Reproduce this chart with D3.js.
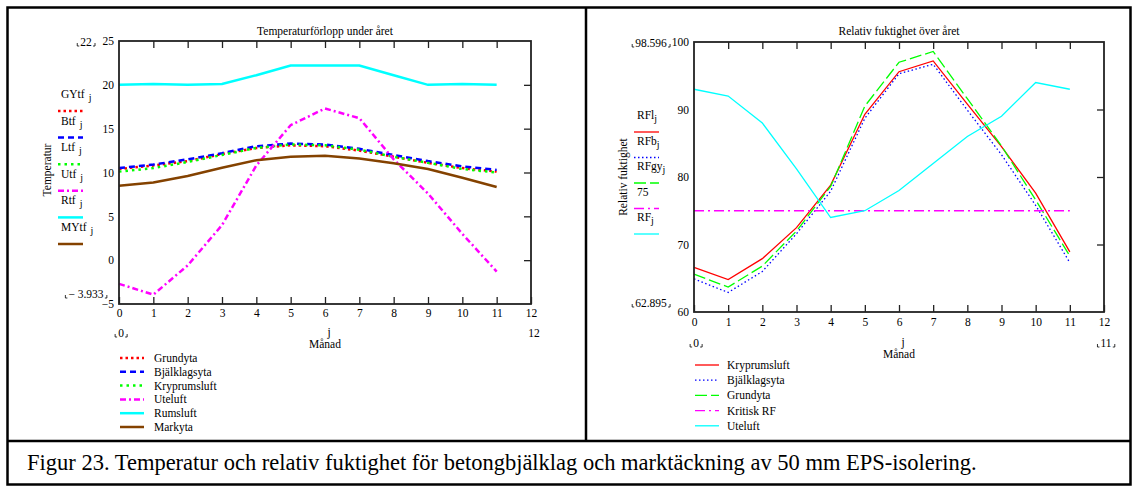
<!DOCTYPE html>
<html>
<head>
<meta charset="utf-8">
<script src="https://cdn.jsdelivr.net/npm/d3@7/dist/d3.min.js"></script>
<style>
  body { margin: 0; background: #fff; }
  svg { font-family: "Liberation Serif", "Times New Roman", serif; }
</style>
</head>
<body>
<svg id="fig" width="1133" height="487"></svg>
<script>
// manader 0..11
const months = [0,1,2,3,4,5,6,7,8,9,10,11]

// temperatur
const GYtf = [10.4,10.8,11.3,12.1,12.8,13.1,13.0,12.5,11.8,11.1,10.5,10.1]
const Btf  = [10.5,10.9,11.5,12.2,13.0,13.3,13.2,12.7,12.0,11.3,10.7,10.3]
const Ltf  = [10.1,10.5,11.2,12.0,12.8,13.2,13.1,12.6,11.8,11.1,10.4,10.0]
const Utf  = [-2.7,-3.933,-0.6,4.0,10.8,15.4,17.3,16.2,11.5,7.6,3.0,-1.3]
const Rtf  = [20.0,20.1,20.0,20.1,21.1,22.2,22.2,22.2,21.1,20.0,20.1,20.0]
const MYtf = [8.5,8.85,9.6,10.55,11.4,11.8,11.9,11.6,11.05,10.4,9.4,8.35]

// relativ fuktighet
const RFl  = [66.6,64.8,67.9,72.5,78.8,89.3,95.6,97.2,90.8,84.5,77.6,68.9]
const RFb  = [64.9,62.895,66.0,71.6,77.9,88.7,95.3,96.7,89.9,83.3,75.8,67.3]
const RFgy = [65.6,63.7,66.8,72.0,78.6,90.5,97.0,98.596,91.6,84.6,76.6,68.3]
const RFkrit = [75,75,75,75,75,75,75,75,75,75,75,75]
const RF   = [93,92,88,81.2,74,75,78,82,86,89,94,93]

const tempTicks = [-5,0,5,10,15,20,25]
const rfTicks = [60,70,80,90,100]
const xTicks = [0,1,2,3,4,5,6,7,8,9,10,11,12]

const FS = 11.5

const svg = d3.select("#fig")

// ram
svg.append("rect").attr("x",7.5).attr("y",7.5).attr("width",1123).attr("height",477)
    .attr("fill","none").attr("stroke","#000").attr("stroke-width",2.5)
svg.append("line").attr("x1",586).attr("x2",586).attr("y1",7).attr("y2",441)
    .attr("stroke","#000").attr("stroke-width",2.5)
svg.append("line").attr("x1",7).attr("x2",1131).attr("y1",441).attr("y2",441)
    .attr("stroke","#000").attr("stroke-width",2.5)

svg.append("text").attr("x",27).attr("y",470).attr("font-size",22.5)
    .text("Figur 23. Temperatur och relativ fuktighet för betongbjälklag och marktäckning av 50 mm EPS-isolering.")

function bracketLabel(g, x, y, txt) {
    // mathcad-style markers i nedre hörnen
    let t = g.append("text").attr("x",x).attr("y",y).attr("font-size",FS)
        .attr("text-anchor","middle").text(txt)
    let b = t.node().getBBox()
    let y0 = b.y + b.height - 2
    g.append("path").attr("d", `M${b.x-3},${y0-3} V${y0} H${b.x-1}`)
        .attr("stroke","#000").attr("fill","none").attr("stroke-width",0.8)
    g.append("path").attr("d", `M${b.x+b.width+3},${y0-3} V${y0} H${b.x+b.width+1}`)
        .attr("stroke","#000").attr("fill","none").attr("stroke-width",0.8)
}

function chart(opt) {
    let g = svg.append("g")
    let x = d3.scaleLinear().domain([0,12]).range([opt.left, opt.right])
    let y = d3.scaleLinear().domain(opt.ydomain).range([opt.bottom, opt.top])

    g.append("text").attr("x",(opt.left+opt.right)/2).attr("y",35).attr("font-size",FS)
        .attr("text-anchor","middle").text(opt.title)

    // serier
    let line = d3.line().x((d,i) => x(months[i])).y(d => y(d))
    opt.series.forEach(s => {
        g.append("path").datum(s.values).attr("d", line)
            .attr("fill","none").attr("stroke", s.color)
            .attr("stroke-width", opt.lw)
            .attr("stroke-dasharray", s.dash)
    })

    // plotram
    g.append("rect").attr("x",opt.left).attr("y",opt.top)
        .attr("width",opt.right-opt.left).attr("height",opt.bottom-opt.top)
        .attr("fill","none").attr("stroke","#222").attr("stroke-width",1.8)

    // axlar med inatriktade streck
    let xb = d3.axisBottom(x).tickValues(xTicks).tickSize(-7).tickPadding(opt.xpad).tickSizeOuter(0)
    let xt = d3.axisTop(x).tickValues(xTicks.slice(1,-1)).tickSize(-7).tickFormat("").tickSizeOuter(0)
    let yl = d3.axisLeft(y).tickValues(opt.yticks).tickSize(0).tickPadding(5)
        .tickFormat(d => d < 0 ? "\u2212" + Math.abs(d) : d)
    let yr = d3.axisRight(y).tickValues(opt.yticks.slice(1,-1)).tickSize(-7).tickFormat("")

    let ax = [
        g.append("g").attr("transform",`translate(0,${opt.bottom})`).call(xb),
        g.append("g").attr("transform",`translate(0,${opt.top})`).call(xt),
        g.append("g").attr("transform",`translate(${opt.left},0)`).call(yl),
        g.append("g").attr("transform",`translate(${opt.right},0)`).call(yr)
    ]
    ax.forEach(a => {
        a.attr("font-family", null)
        a.select(".domain").remove()
        a.selectAll("line").attr("stroke","#222").attr("stroke-width",1.3)
        a.selectAll("text").attr("font-size",FS).attr("fill","#000")
    })

    // min/max markeringar
    bracketLabel(g, opt.bx, opt.top + 5, opt.ymaxLabel)
    bracketLabel(g, opt.bx, opt.minY, opt.yminLabel)

    // x-etiketter under
    bracketLabel(g, opt.left + 2, opt.sub, "0")
    if (opt.xEndBracket) bracketLabel(g, opt.right + 2, opt.sub, opt.xEnd)
    else g.append("text").attr("x",opt.right+3).attr("y",opt.sub).attr("font-size",FS)
        .attr("text-anchor","middle").text(opt.xEnd)
    g.append("text").attr("x",(opt.left+opt.right)/2 + 4).attr("y",opt.sub - 1).attr("font-size",FS)
        .attr("text-anchor","middle").text("j")
    g.append("text").attr("x",(opt.left+opt.right)/2).attr("y",opt.sub + 11).attr("font-size",FS)
        .attr("text-anchor","middle").text("Månad")

    // y-rubrik
    g.append("text").attr("transform",`translate(${opt.ylx},${opt.yly}) rotate(-90)`)
        .attr("font-size",FS).attr("text-anchor","middle").text(opt.ylabel)

    // sidoförklaring (namn + linje)
    opt.series.forEach((s,i) => {
        let ty = opt.sideY + i*opt.sideStep
        let t = g.append("text").attr("x",opt.sideX).attr("y",ty).attr("font-size",FS)
        t.append("tspan").text(s.name)
        if (s.sub) t.append("tspan").attr("dx",opt.subGap).attr("dy",3).attr("font-size",10).text("j")
        g.append("line").attr("x1",opt.sideX-3).attr("x2",opt.sideX+22)
            .attr("y1",ty+13).attr("y2",ty+13)
            .attr("stroke",s.color).attr("stroke-width",opt.lw).attr("stroke-dasharray",s.dash)
    })

    // förklaring under
    opt.series.forEach((s,i) => {
        let ly = opt.legY + i*opt.legStep
        g.append("line").attr("x1",opt.left+1).attr("x2",opt.left+25)
            .attr("y1",ly).attr("y2",ly)
            .attr("stroke",s.color).attr("stroke-width",opt.lw).attr("stroke-dasharray",s.dash)
        g.append("text").attr("x",opt.legX).attr("y",ly+4).attr("font-size",FS).text(s.label)
    })
}

chart({
    left:119, right:531, top:41, bottom:304,
    ydomain:[-5,25], yticks:tempTicks, lw:2.5, xpad:5,
    title:"Temperaturförlopp under året",
    ymaxLabel:"22", yminLabel:"\u2212 3.933", bx:86, minY:298,
    sub:337, xEnd:"12", xEndBracket:false,
    ylabel:"Temperatur", ylx:51, yly:170,
    sideX:61, sideY:98, sideStep:26.6, subGap:4,
    legY:358, legStep:13.8, legX:154,
    series:[
        {name:"GYtf", sub:true, values:GYtf, color:"#ff0000", dash:"2.5,3", label:"Grundyta"},
        {name:"Btf", sub:true, values:Btf, color:"#0000ff", dash:"6,4", label:"Bjälklagsyta"},
        {name:"Ltf", sub:true, values:Ltf, color:"#00ff00", dash:"2.5,4", label:"Kryprumsluft"},
        {name:"Utf", sub:true, values:Utf, color:"#ff00ff", dash:"6,3,2,3", label:"Uteluft"},
        {name:"Rtf", sub:true, values:Rtf, color:"#00ffff", dash:null, label:"Rumsluft"},
        {name:"MYtf", sub:true, values:MYtf, color:"#844200", dash:null, label:"Markyta"}
    ]
})

chart({
    left:694, right:1104, top:42, bottom:312,
    ydomain:[60,100], yticks:rfTicks, lw:1.3, xpad:6,
    title:"Relativ fuktighet över året",
    ymaxLabel:"98.596", yminLabel:"62.895", bx:651, minY:307,
    sub:347, xEnd:"11", xEndBracket:true,
    ylabel:"Relativ fuktighet", ylx:627, yly:177,
    sideX:637, sideY:119, sideStep:25.5, subGap:0,
    legY:365, legStep:15.2, legX:727,
    series:[
        {name:"RFl", sub:true, values:RFl, color:"#ff0000", dash:null, label:"Kryprumsluft"},
        {name:"RFb", sub:true, values:RFb, color:"#0000ff", dash:"1.5,2.5", label:"Bjälklagsyta"},
        {name:"RFgy", sub:true, values:RFgy, color:"#00ff00", dash:"12,4", label:"Grundyta"},
        {name:"75", sub:false, values:RFkrit, color:"#ff00ff", dash:"10,4,2,4", label:"Kritisk RF"},
        {name:"RF", sub:true, values:RF, color:"#00ffff", dash:null, label:"Uteluft"}
    ]
})
</script>
</body>
</html>
